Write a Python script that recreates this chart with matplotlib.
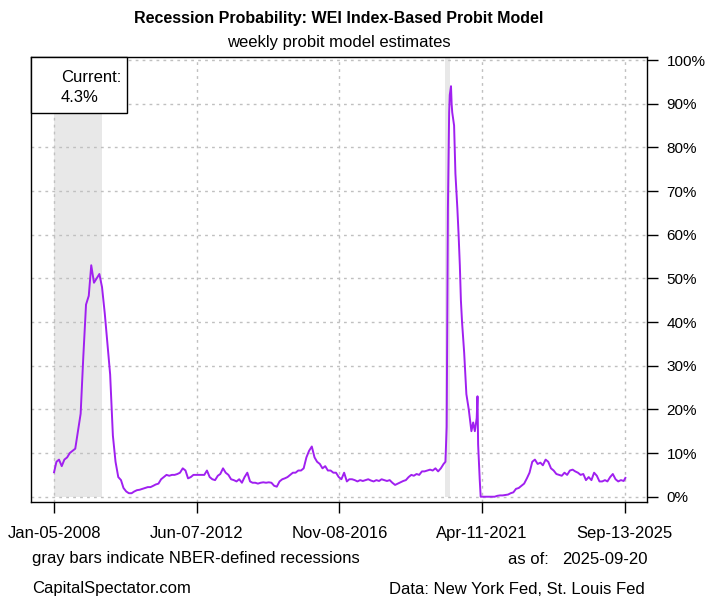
import numpy as np
import pandas as pd
import matplotlib
matplotlib.use("Agg")
import matplotlib.pyplot as plt
import matplotlib.dates as mdates
from matplotlib.patches import Rectangle

plt.rcParams['font.family'] = ['Liberation Sans', 'DejaVu Sans']

# ---- data (recession probability, %) ----
# monthly readings (first of month)
v2008 = [5.6, 8, 8.5, 7, 8.5, 9, 10, 10.5, 11, 15, 19, 32]
v2009 = [44, 46, 53, 49, 50, 51, 48, 42, 35, 28, 14, 8]
v2010 = [4.5, 3.8, 2, 1.2, 0.8, 0.8, 1.2, 1.5, 1.6, 1.8, 2, 2.2]
v2011 = [2.2, 2.5, 2.8, 3, 4, 4.5, 5, 4.8, 5, 5, 5.2, 5.5]
v2012 = [6.5, 6, 4.2, 4.5, 5, 5, 5, 5, 5, 6, 4.5, 4]
v2013 = [3.8, 4.8, 5.2, 6.5, 5.5, 5, 4, 3.8, 3.5, 4, 3.2, 4.5]
v2014 = [5.5, 3.5, 3.2, 3.2, 3, 3.2, 3.3, 3.2, 3.3, 3.2, 2.5, 2.3]
v2015 = [3.5, 4, 4.2, 4.5, 5, 5.5, 5.5, 6, 6, 6.5, 9, 10.5]
v2016 = [11.5, 9, 8, 7.5, 6.5, 7, 6, 6, 5.5, 5.5, 4.5, 4]
v2017 = [5.5, 3.5, 4, 4, 3.8, 3.5, 3.8, 3.6, 3.8, 4, 3.7, 3.5]
v2018 = [3.8, 3.6, 4, 3.8, 3.6, 3.8, 3.2, 2.7, 3, 3.3, 3.6, 3.8]
v2019 = [4.5, 5, 4.8, 5.2, 5, 5.8, 5.8, 6, 6.2, 6, 6.5, 5.8]

# pandemic spike (irregular dates)
covid_dates = ['2020-01-01', '2020-02-01', '2020-02-22', '2020-03-07', '2020-03-21',
               '2020-04-04', '2020-04-11', '2020-04-25', '2020-05-02', '2020-05-09',
               '2020-05-30', '2020-06-14', '2020-07-06', '2020-07-20', '2020-08-03',
               '2020-08-15', '2020-08-28', '2020-09-21', '2020-10-16', '2020-11-12',
               '2020-12-12', '2021-01-01', '2021-01-20', '2021-02-10', '2021-02-19',
               '2021-02-26', '2021-03-16', '2021-03-27']
covid_vals = [6.5, 7.5, 8, 16, 66,
              88, 92, 94, 90, 88,
              85, 74, 66, 60, 53,
              45, 40, 33, 23.5, 20,
              15, 17, 15, 18, 23,
              12, 4, 0]

v2021_apr_dec = [0, 0, 0, 0, 0, 0, 0.2, 0.3, 0.3]
v2022 = [0.4, 0.5, 0.8, 1, 1.8, 2, 2.5, 3, 4.2, 5.5, 8, 8.5]
v2023 = [7.5, 7.8, 7.2, 8.5, 8, 6.5, 6, 5.2, 5, 4.8, 5.5, 5]
v2024 = [6, 6.2, 5.8, 5.5, 5, 5.2, 3.8, 4.5, 3.8, 5.5, 4.8, 3.5]
v2025 = [3.5, 3.8, 3.5, 4.5, 5.2, 4, 3.5, 3.8, 3.6]
last_date = '2025-09-20'
last_val = 4.3

rec_starts = ['2008-01-05', '2020-02-20']
rec_ends = ['2009-06-27', '2020-04-10']

tick_dates = ['2008-01-05', '2012-06-07', '2016-11-08', '2021-04-11', '2025-09-13']
tick_labels = ['Jan-05-2008', 'Jun-07-2012', 'Nov-08-2016', 'Apr-11-2021', 'Sep-13-2025']
y_ticks = [0, 10, 20, 30, 40, 50, 60, 70, 80, 90, 100]

# ---- assemble series ----
def monthly(year, vals, start_month=1):
    d = pd.date_range(f'{year}-{start_month:02d}-01', periods=len(vals), freq='MS')
    return list(d), list(vals)

dates, vals = [], []
for yr, arr in [(2008, v2008), (2009, v2009), (2010, v2010), (2011, v2011),
                (2012, v2012), (2013, v2013), (2014, v2014), (2015, v2015),
                (2016, v2016), (2017, v2017), (2018, v2018), (2019, v2019)]:
    d, v = monthly(yr, arr)
    dates += d; vals += v
dates[0] = pd.Timestamp('2008-01-05')
dates += [pd.Timestamp(s) for s in covid_dates]; vals += covid_vals
d, v = monthly(2021, v2021_apr_dec, 4); dates += d; vals += v
for yr, arr in [(2022, v2022), (2023, v2023), (2024, v2024), (2025, v2025)]:
    d, v = monthly(yr, arr)
    dates += d; vals += v
dates.append(pd.Timestamp(last_date)); vals.append(last_val)

# ---- figure ----
W, H = 707, 600
fig = plt.figure(figsize=(W / 100, H / 100), dpi=100)
L, R, T, B = 31, 647, 57, 502
ax = fig.add_axes([L / W, 1 - B / H, (R - L) / W, (B - T) / H])

ax.set_xlim(pd.Timestamp('2007-04-19'), pd.Timestamp('2026-05-23'))
ax.set_ylim(-1.21, 100.69)

grid_kw = dict(color='#C0C0C0', lw=1, ls=(0, (2, 3)), zorder=1)
for yv in y_ticks:
    ax.axhline(yv, **grid_kw)
for td in tick_dates:
    ax.axvline(pd.Timestamp(td), **grid_kw)

for s, e in zip(rec_starts, rec_ends):
    ax.fill_between([pd.Timestamp(s), pd.Timestamp(e)], 0, 100.69,
                    color='#E8E8E8', lw=0, zorder=0.5)

ax.plot(dates, vals, color='#A020F0', lw=1.4, zorder=3)

ax.set_xticks([pd.Timestamp(t) for t in tick_dates])
ax.set_xticklabels(tick_labels)
ax.yaxis.tick_right()
ax.set_yticks(y_ticks)
ax.set_yticklabels([f'{y}%' for y in y_ticks])
ax.tick_params(axis='x', direction='out', length=8, width=1, pad=9, labelsize=12)
ax.tick_params(axis='y', direction='out', length=8, width=1, pad=6, labelsize=11)
for sp in ax.spines.values():
    sp.set_linewidth(1)
    sp.set_color('black')

# legend box
bw = (127 - L) / (R - L)
bh = (113 - T) / (B - T)
ax.add_patch(Rectangle((0, 1 - bh), bw, bh, transform=ax.transAxes,
                       facecolor='white', edgecolor='black', lw=1, zorder=5, clip_on=False))
ax.text((61 - L) / (R - L), (B - 77) / (B - T), 'Current:', transform=ax.transAxes,
        ha='left', va='center', fontsize=12, zorder=6)
ax.text((61 - L) / (R - L), (B - 97) / (B - T), f'{last_val}%', transform=ax.transAxes,
        ha='left', va='center', fontsize=12, zorder=6)

def ftext(x, y, s, **kw):
    fig.text(x / W, 1 - y / H, s, va='center', **kw)

ftext(339, 18, 'Recession Probability: WEI Index-Based Probit Model',
      ha='center', fontsize=11.5, fontweight='bold')
ftext(339, 43, 'weekly probit model estimates', ha='center', fontsize=12)
ftext(32, 559, 'gray bars indicate NBER-defined recessions', ha='left', fontsize=12)
ftext(508, 559, 'as of:', ha='left', fontsize=12)
ftext(648, 559, '2025-09-20', ha='right', fontsize=12)
ftext(32, 589, 'CapitalSpectator.com', ha='left', fontsize=12)
ftext(645, 589, 'Data: New York Fed, St. Louis Fed', ha='right', fontsize=12)

fig.savefig('out.png', dpi=100)
